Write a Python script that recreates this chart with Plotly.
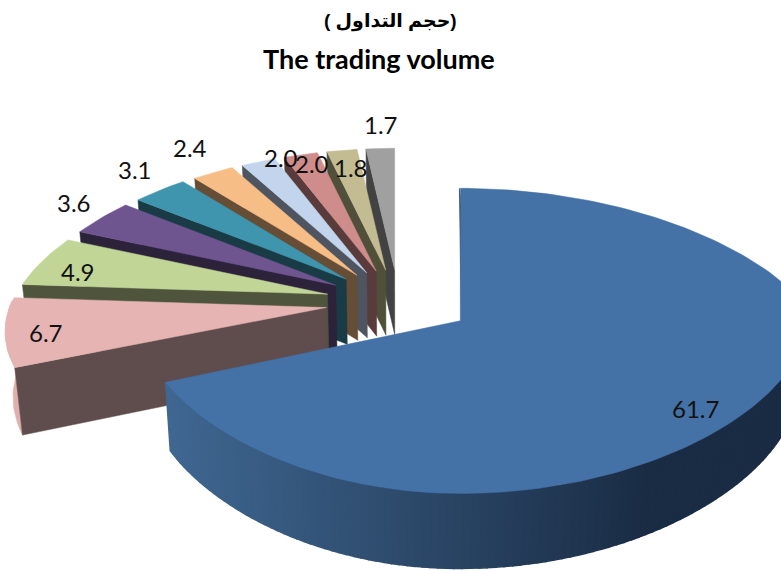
import math
import plotly.graph_objects as go

# ---- chart data ----
values = [61.7, 6.7, 4.9, 3.6, 3.1, 2.4, 2.0, 2.0, 1.8, 1.7]
value_labels = ["61.7", "6.7", "4.9", "3.6", "3.1", "2.4", "2.0", "2.0", "1.8", "1.7"]
top_colors = ["#4471a6", "#e5b4b3", "#c1d596", "#6f5590", "#3f95ae",
              "#f6bd86", "#c2d5ec", "#ce8c8b", "#c3bb92", "#a0a0a0"]
cut_colors = ["#1c3350", "#5f4c4c", "#4e553c", "#2c2239", "#193b45",
              "#664d36", "#4e5560", "#593b3b", "#50503a", "#424242"]
wall_colors = ["#2c4a6b", "#e0b0af", "#4e553c", "#2c2239", "#193b45",
               "#664d36", "#4e5560", "#593b3b", "#50503a", "#424242"]
label_x = [695, 46, 78, 74, 135, 190, 281, 312, 351, 381]
label_y = [408, 332, 271, 202, 169, 147, 157, 163, 167, 124]
title_ar = "\u202B(حجم التداول )\u202C"
title_en = "The trading volume"

# ---- 3-D view of the exploded pie ----
CX, CY = 399, 302
RX, RY = 320, 145
EXPLODE = 0.23
PERSP_Y, PERSP_X, PERSP_FRONT = 0.13, 0.25, 0.16
FAN_SCALE, RIGHT_STRETCH = 0.985, 1.08
BOTTOM_INSET = 0.02


def project(mid, theta, r=1.0, big=False):
    s_m, c_m = math.sin(mid), math.cos(mid)
    v = EXPLODE * c_m + r * math.cos(theta)
    sx = math.sin(theta)
    if big:
        w = 1 + PERSP_X * v if v > 0 else 1.0
        scale = RIGHT_STRETCH if sx > 0 else 1.0
    else:
        w = 1 + PERSP_X * v if v > 0 else 1 + PERSP_FRONT * v
        scale = FAN_SCALE
    x = CX + RX * (EXPLODE * s_m + scale * r * sx / w)
    y = CY - RY * v / (1 + PERSP_Y * v)
    return x, y, v


def depth(v):
    return 65 + 10 * max(0.0, -v - 0.2) / 0.93


def lower(pt):
    x, y, v = pt
    return CX + (x - CX) * (1 - BOTTOM_INSET), y + depth(v), v


def mix(c1, c2, t):
    a = [int(c1[i:i + 2], 16) for i in (1, 3, 5)]
    b = [int(c2[i:i + 2], 16) for i in (1, 3, 5)]
    return "#" + "".join(f"{round(p + (q - p) * t):02x}" for p, q in zip(a, b))


fig = go.Figure()


def poly(pts, color, lw=0.5):
    fig.add_trace(go.Scatter(
        x=[p[0] for p in pts] + [pts[0][0]],
        y=[p[1] for p in pts] + [pts[0][1]],
        mode="lines", fill="toself", fillcolor=color,
        line=dict(color=color, width=lw),
        hoverinfo="skip", showlegend=False,
    ))


total = sum(values)
spans = []
acc = 0.0
for val in values:
    a0 = acc / total * 2 * math.pi
    acc += val
    spans.append((a0, acc / total * 2 * math.pi))

# back-to-front: the last fan slice first, the big slice on top
for i in list(range(len(values) - 1, 0, -1)) + [0]:
    t0, t1 = spans[i]
    mid = (t0 + t1) / 2
    n = max(6, int((t1 - t0) * 40))
    thetas = [t0 + (t1 - t0) * j / n for j in range(n + 1)]
    big = i == 0
    apex = project(mid, 0, 0, big=big)
    rim = [project(mid, th, big=big) for th in thetas]

    if big:
        # inner cut of the large slice, seen from the left
        start = rim[0]
        poly([(start[0] - 1, start[1]), (apex[0] + 1, apex[1] + 1),
              (apex[0] + 6, apex[1] + 1), (start[0] + 1, start[1] + 20)], cut_colors[0])
        # shaded rim wall
        for j in range(n):
            if math.cos(thetas[j]) > 0.05:
                continue
            a, b = rim[j], rim[j + 1]
            f = min(1.0, max(0.0, (650 - (a[0] + b[0]) / 2) / 482))
            poly([a, b, lower(b), lower(a)], mix("#1a2c44", "#3f6791", f), lw=1.5)
    else:
        if i == 1:
            vis = [p for th, p in zip(thetas, rim) if math.cos(th) < 0.05]
            poly(vis + [lower(p) for p in reversed(vis)], wall_colors[i])
        poly([apex, rim[0], lower(rim[0]), lower(apex)], cut_colors[i])
    poly([apex] + rim, top_colors[i])

for txt, lx, ly in zip(value_labels, label_x, label_y):
    fig.add_annotation(x=lx, y=ly, text=txt, showarrow=False,
                       font=dict(family="Lato, sans-serif", size=24, color="#111111"))

fig.add_annotation(x=390, y=21, text=f"<b>{title_ar}</b>", showarrow=False,
                   font=dict(family="Liberation Sans, DejaVu Sans", size=19, color="#000000"))
fig.add_annotation(x=379, y=58, text=f"<b>{title_en}</b>", showarrow=False,
                   font=dict(family="Lato, sans-serif", size=27, color="#000000"))

fig.update_layout(
    width=781, height=571,
    margin=dict(l=0, r=0, t=0, b=0),
    paper_bgcolor="white", plot_bgcolor="white",
    xaxis=dict(range=[0, 781], visible=False, fixedrange=True),
    yaxis=dict(range=[571, 0], visible=False, fixedrange=True),
)
fig.write_html("out.html", config={"displayModeBar": False},
               post_script="document.body.style.margin='0';document.body.style.overflow='hidden';")
